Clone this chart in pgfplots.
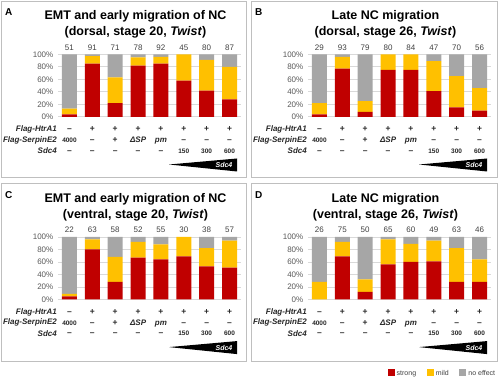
\documentclass[border=0pt]{standalone}
\usepackage{pgfplots}
\pgfplotsset{compat=1.18}
\usepackage{pgfplotstable}
\usepackage{fontspec}
\setmainfont{Liberation Sans}
\definecolor{cstrong}{HTML}{C00000}
\definecolor{cmild}{HTML}{FFC000}
\definecolor{cnone}{HTML}{A6A6A6}
\definecolor{tickgray}{HTML}{595959}
\definecolor{countgray}{HTML}{404040}
\definecolor{gridgray}{HTML}{D9D9D9}
\definecolor{boxgray}{HTML}{BFBFBF}
\definecolor{labelgray}{HTML}{262626}

\pgfplotstableread{
x strong mild none
0 4 9 87
1 85 12 3
2 22 41 37
3 82 13 5
4 85 11 4
5 58 42 0
6 42 49 9
7 28 52 20
}\tabA
\pgfplotstableread{
x strong mild none
0 4 18 78
1 77 19 4
2 8 17 75
3 75 25 0
4 75 25 0
5 41 48 11
6 15 50 35
7 10 36 54
}\tabB
\pgfplotstableread{
x strong mild none
0 5 4 91
1 80 16 4
2 28 40 32
3 67 25 8
4 64 24 12
5 69 31 0
6 53 29 18
7 51 43 6
}\tabC
\pgfplotstableread{
x strong mild none
0 0 28 72
1 69 23 8
2 12 20 68
3 56 40 4
4 60 29 11
5 61 33 6
6 28 54 18
7 28 36 36
}\tabD

\pgfplotsset{panel/.style={
  scale only axis, width=183pt, height=62.5pt,
  ybar stacked, bar width=15pt,
  xmin=-0.5, xmax=7.5, ymin=0, ymax=100,
  axis line style={draw=none},
  tick style={draw=none},
  ytick={0,20,40,60,80,100},
  yticklabel={\pgfmathprintnumber{\tick}\%},
  ymajorgrids, major grid style={draw=gridgray, line width=0.6pt},
  xtick={0,...,7},
  xticklabel pos=right,
  /pgf/number format/assume math mode=true,
  yticklabel style={font=\fontsize{8}{9}\selectfont, text=tickgray, inner sep=0pt, xshift=-4.5pt},
  xticklabel style={font=\fontsize{8}{9}\selectfont, text=countgray, inner sep=0pt, yshift=4pt},
}}

\newcommand{\rowfont}{\fontsize{8}{9}\selectfont\bfseries\itshape}
\newcommand{\signfont}{\fontsize{8.5}{9}\selectfont\bfseries}
\newcommand{\smallnum}{\fontsize{6.5}{7}\selectfont\bfseries}
\newcommand{\titlefont}{\fontsize{12.5}{15}\selectfont\bfseries}

\newcommand{\extras}[4]{%
\begin{scope}[shift={(#1,#2)}]
  \node[anchor=base west, inner sep=0pt, font=\fontsize{10}{12}\selectfont\bfseries] at (5,15.7) {#3};
  \node[anchor=base, inner sep=0pt, font=\titlefont] at (135.5,19.5) {#4};
  \node[anchor=east, inner sep=0pt, text=labelgray] at (57,129.5) {\rowfont Flag-HtrA1};
  \node[anchor=east, inner sep=0pt, text=labelgray] at (57,140) {\rowfont Flag-SerpinE2};
  \node[anchor=east, inner sep=0pt, text=labelgray] at (57,150.8) {\rowfont Sdc4};
  \foreach \s [count=\i from 0] in {\textendash,+,+,+,+,+,+,+}
    \node[anchor=base, inner sep=0pt, text=labelgray] at ({69.5+22.857*\i},132) {\signfont\s};
  \foreach \s [count=\i from 0] in {{\smallnum 4000},\textendash,+,{\rowfont ΔSP},{\rowfont pm},\textendash,\textendash,\textendash}
    \node[anchor=base, inner sep=0pt, text=labelgray] at ({69.5+22.857*\i},142.5) {\signfont\s};
  \foreach \s [count=\i from 0] in {\textendash,\textendash,\textendash,\textendash,\textendash,{\smallnum 150},{\smallnum 300},{\smallnum 600}}
    \node[anchor=base, inner sep=0pt, text=labelgray] at ({69.5+22.857*\i},153.2) {\signfont\s};
  \fill[black] (169,164.5) -- (237,158.5) -- (237,171.5) -- cycle;
  \node[anchor=center, inner sep=0pt, text=white, font=\fontsize{7}{8}\selectfont\bfseries\itshape] at (224,165.5) {Sdc4};
\end{scope}}

\begin{document}
\begin{tikzpicture}
\path[use as bounding box] (0,0) rectangle (499pt,377pt);

\begin{axis}[panel, at={(58pt,260.2pt)}, xticklabels={51,91,71,78,92,45,80,87}]
\addplot[fill=cstrong, draw=none] table[x=x,y=strong]{\tabA};
\addplot[fill=cmild, draw=none] table[x=x,y=mild]{\tabA};
\addplot[fill=cnone, draw=none] table[x=x,y=none]{\tabA};
\end{axis}

\begin{axis}[panel, at={(308pt,260.2pt)}, xticklabels={29,93,79,80,84,47,70,56}]
\addplot[fill=cstrong, draw=none] table[x=x,y=strong]{\tabB};
\addplot[fill=cmild, draw=none] table[x=x,y=mild]{\tabB};
\addplot[fill=cnone, draw=none] table[x=x,y=none]{\tabB};
\end{axis}

\begin{axis}[panel, at={(58pt,77.6pt)}, xticklabels={22,63,58,52,55,30,38,57}]
\addplot[fill=cstrong, draw=none] table[x=x,y=strong]{\tabC};
\addplot[fill=cmild, draw=none] table[x=x,y=mild]{\tabC};
\addplot[fill=cnone, draw=none] table[x=x,y=none]{\tabC};
\end{axis}

\begin{axis}[panel, at={(308pt,77.6pt)}, xticklabels={26,75,50,65,60,49,63,46},
  legend columns=3,
  legend style={at={(1.027,-1.186)}, anchor=east, draw=none, inner sep=0pt,
    font=\fontsize{7}{8}\selectfont, text=countgray,
    nodes={inner sep=0.6pt},
    /tikz/every odd column/.append style={column sep=1.5pt},
    /tikz/every even column/.append style={column sep=10pt}},
  legend image code/.code={\fill[#1] (0pt,-1.8pt) rectangle (7pt,5.2pt);}]
\addplot[fill=cstrong, draw=none] table[x=x,y=strong]{\tabD};
\addplot[fill=cmild, draw=none] table[x=x,y=mild]{\tabD};
\addplot[fill=cnone, draw=none] table[x=x,y=none]{\tabD};
\legend{strong, mild, no effect}
\end{axis}

\begin{scope}[x=1pt, y=-1pt, shift={(0,377pt)}]
  \draw[boxgray, line width=0.8pt] (1,1) rectangle (246,177);
  \draw[boxgray, line width=0.8pt] (251.5,1) rectangle (497.5,177);
  \draw[boxgray, line width=0.8pt] (1,183.6) rectangle (246,361.6);
  \draw[boxgray, line width=0.8pt] (251.5,183.6) rectangle (497.5,361.6);
  \extras{0}{0}{A}{EMT and early migration of NC}
  \node[anchor=base, inner sep=0pt, font=\titlefont] at (135.5,35.5) {(dorsal, stage 20, \textit{Twist})};
  \extras{250}{0}{B}{Late NC migration}
  \node[anchor=base, inner sep=0pt, font=\titlefont] at (385.5,35.5) {(dorsal, stage 26, \textit{Twist})};
  \extras{0}{182.6}{C}{EMT and early migration of NC}
  \node[anchor=base, inner sep=0pt, font=\titlefont] at (135.5,218.1) {(ventral, stage 20, \textit{Twist})};
  \extras{250}{182.6}{D}{Late NC migration}
  \node[anchor=base, inner sep=0pt, font=\titlefont] at (385.5,218.1) {(ventral, stage 26, \textit{Twist})};
\end{scope}
\end{tikzpicture}
\end{document}
